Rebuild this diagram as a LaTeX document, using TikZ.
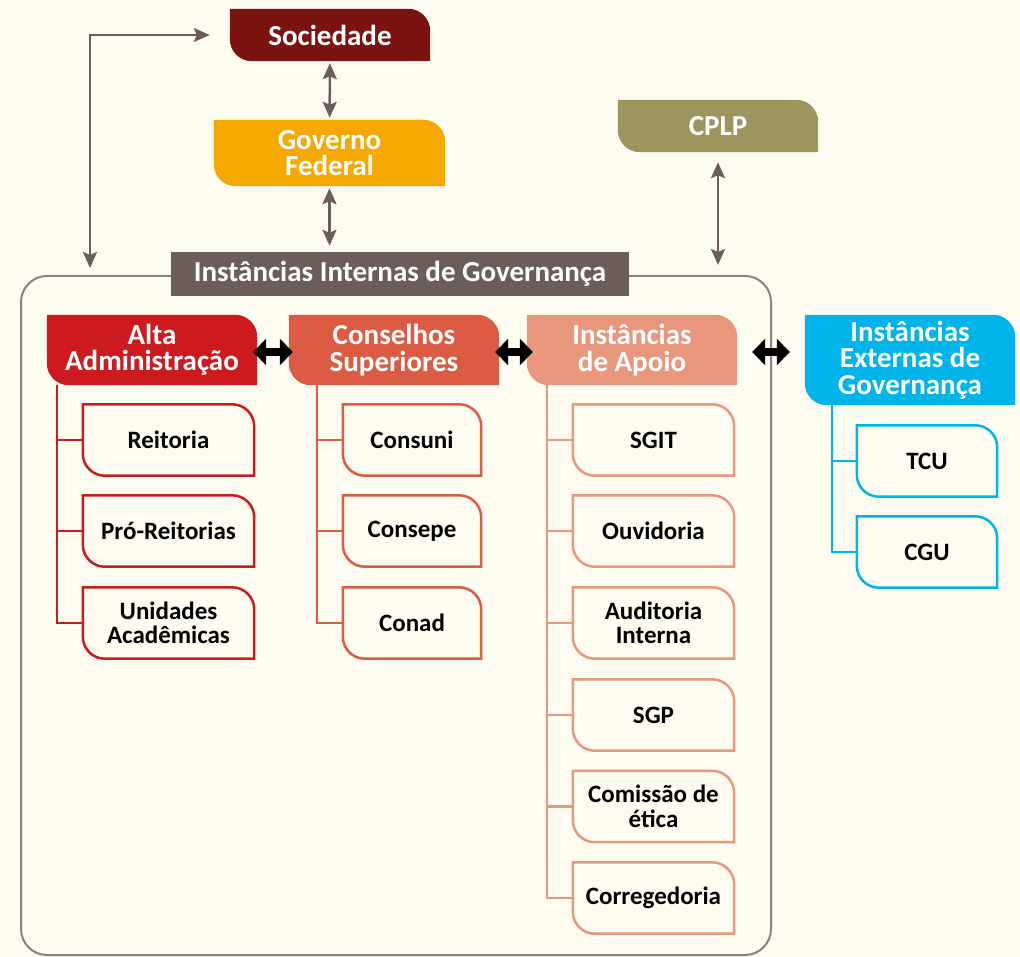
\documentclass[tikz,border=0pt]{standalone}
\usepackage{fontspec}
\setmainfont{Carlito}
\usetikzlibrary{arrows.meta,calc}

\definecolor{cream}{HTML}{FEFCF0}
\definecolor{socColor}{HTML}{7B1310}
\definecolor{govColor}{HTML}{F5A800}
\definecolor{cplpColor}{HTML}{9D955E}
\definecolor{bannerColor}{HTML}{6B5E5A}
\definecolor{frameColor}{HTML}{8B817C}
\definecolor{altaColor}{HTML}{CC1A1E}
\definecolor{consColor}{HTML}{DB5B43}
\definecolor{apoioColor}{HTML}{E8977C}
\definecolor{extColor}{HTML}{00B4EA}

\pgfdeclarelayer{bg}
\pgfdeclarelayer{shapes}
\pgfsetlayers{bg,shapes,main}

% box with rounded top right and bottom left corners
\newcommand{\govbox}[2]{%
  \path[#2] (#1.north west) -- ([xshift=-22pt]#1.north east)
    arc[start angle=90,end angle=0,radius=22pt] -- (#1.south east)
    -- ([xshift=22pt]#1.south west)
    arc[start angle=270,end angle=180,radius=22pt] -- cycle;}

\begin{document}
\begin{tikzpicture}[x=1pt,y=-1pt,
  title/.style={text=white,font=\fontsize{29}{26.5}\selectfont\bfseries,align=center,inner sep=0pt,minimum width=210pt,minimum height=70pt},
  item/.style={text=black,font=\fontsize{25}{24.5}\selectfont\bfseries,align=center,inner sep=0pt,minimum height=71pt},
  garrow/.style={draw=bannerColor,line width=2.5pt,{Stealth[length=16pt,width=14pt,inset=3pt]}-{Stealth[length=16pt,width=14pt,inset=3pt]}},
  barrow/.style={draw=black,line width=8pt,{Triangle[length=13pt,width=26pt]}-{Triangle[length=13pt,width=26pt]}},
  tree/.style={line width=2.2pt}]
\useasboundingbox (0,0) rectangle (1020,957);

% top level
\node[title,minimum width=200pt,minimum height=52pt] (soc) at (330,35) {Sociedade};
\node[title,minimum width=231pt,minimum height=66pt] (gov) at (329.5,153) {Governo\\Federal};
\node[title,minimum width=200pt,minimum height=52pt] (cplp) at (718,126) {CPLP};

\begin{pgfonlayer}{bg}
\fill[cream] (0,0) rectangle (1020,957);
\node[draw=frameColor,line width=2pt,rounded corners=26pt,minimum width=750pt,minimum height=679pt] (frame) at (396,615.5) {};
\end{pgfonlayer}

\node[title,fill=bannerColor,minimum width=458pt,minimum height=44pt] (banner) at (400,274) {Instâncias Internas de Governança};

% second level
\node[title] (alta) at (152,350) {Alta\\Administração};
\node[title] (cons) at (394,350) {Conselhos\\Superiores};
\node[title] (apoio) at (632,350) {Instâncias\\de Apoio};
\node[title,minimum height=90pt] (ext) at (910,360) {Instâncias\\Externas de\\Governança};

% children
\node[item,minimum width=171pt] (reitoria) at (168.5,440) {Reitoria};
\node[item,minimum width=171pt] (pro) at (168.5,531) {Pró-Reitorias};
\node[item,minimum width=171pt] (unid) at (168.5,623) {Unidades\\Acadêmicas};

\node[item,minimum width=138pt] (consuni) at (412,440) {Consuni};
\node[item,minimum width=138pt] (consepe) at (412,531) {Consepe};
\node[item,minimum width=138pt] (conad) at (412,623) {Conad};

\node[item,minimum width=161pt] (sgit) at (653.5,440) {SGIT};
\node[item,minimum width=161pt] (ouvid) at (653.5,531) {Ouvidoria};
\node[item,minimum width=161pt] (audit) at (653.5,623) {Auditoria\\Interna};
\node[item,minimum width=161pt] (sgp) at (653.5,715) {SGP};
\node[item,minimum width=161pt] (etica) at (653.5,806.5) {Comissão de\\ética};
\node[item,minimum width=161pt] (correg) at (653.5,898) {Corregedoria};

\node[item,minimum width=140pt] (tcu) at (927,461) {TCU};
\node[item,minimum width=140pt] (cgu) at (927,552) {CGU};

\begin{pgfonlayer}{shapes}
\foreach \n/\c in {soc/socColor,gov/govColor,cplp/cplpColor,alta/altaColor,cons/consColor,apoio/apoioColor,ext/extColor}
  \govbox{\n}{fill=\c};
\foreach \n in {reitoria,pro,unid}
  \govbox{\n}{draw=altaColor,fill=cream,line width=2.5pt};
\foreach \n in {consuni,consepe,conad}
  \govbox{\n}{draw=consColor,fill=cream,line width=2.5pt};
\foreach \n in {sgit,ouvid,audit,sgp,etica,correg}
  \govbox{\n}{draw=apoioColor,fill=cream,line width=2.5pt};
\foreach \n in {tcu,cgu}
  \govbox{\n}{draw=extColor,fill=cream,line width=2.5pt};
\end{pgfonlayer}

% tree lines
\draw[tree,altaColor] ([xshift=-26pt]reitoria.west |- alta.south) |- (unid.west);
\foreach \n in {reitoria,pro}
  \draw[tree,altaColor] ([xshift=-26pt]\n.west) -- (\n.west);
\draw[tree,consColor] ([xshift=-26pt]consuni.west |- cons.south) |- (conad.west);
\foreach \n in {consuni,consepe}
  \draw[tree,consColor] ([xshift=-26pt]\n.west) -- (\n.west);
\draw[tree,apoioColor] ([xshift=-26pt]sgit.west |- apoio.south) |- (correg.west);
\foreach \n in {sgit,ouvid,audit,sgp,etica}
  \draw[tree,apoioColor] ([xshift=-26pt]\n.west) -- (\n.west);
\draw[tree,extColor] ([xshift=-25pt]tcu.west |- ext.south) |- (cgu.west);
\draw[tree,extColor] ([xshift=-25pt]tcu.west) -- (tcu.west);

% arrows
\coordinate (loop) at (90,276);
\draw[garrow,shorten <=8pt,shorten >=20pt] (loop) |- (soc.west);
\draw[garrow,shorten <=2pt,shorten >=2pt] (soc) -- (gov);
\draw[garrow,shorten <=2pt,shorten >=6pt] (gov.south) -- (gov.south |- banner.north);
\draw[garrow,shorten <=10pt,shorten >=10pt] (cplp.south) -- (cplp.south |- frame.north);

\draw[barrow,shorten <=-4pt,shorten >=-4pt] ([yshift=-2pt]alta.east) -- ([yshift=-2pt]cons.west);
\draw[barrow,shorten <=-4pt,shorten >=-6pt] ([yshift=-2pt]cons.east) -- ([yshift=-2pt]apoio.west);
\draw[barrow,shorten <=15pt,shorten >=15pt] ([yshift=-2pt]apoio.east) -- ([yshift=-2pt]apoio.east -| ext.west);
\end{tikzpicture}
\end{document}
